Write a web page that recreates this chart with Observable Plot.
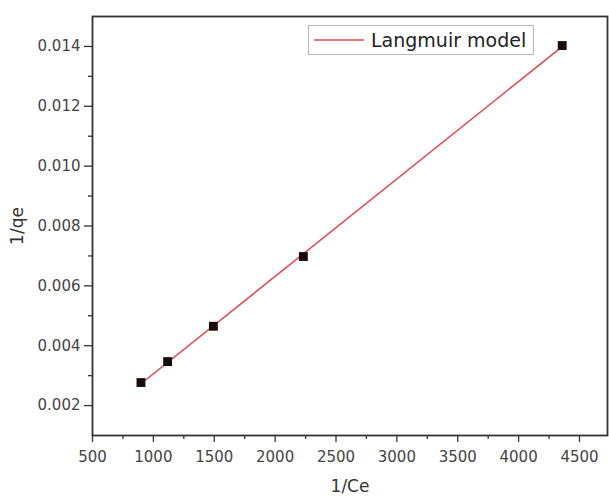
<!DOCTYPE html>
<html>
<head>
<meta charset="utf-8">
<script src="https://cdn.jsdelivr.net/npm/d3@7"></script>
<script src="https://cdn.jsdelivr.net/npm/@observablehq/plot@0.6"></script>
<style>
  html, body { margin: 0; padding: 0; background: #fff; }
  #wrap { position: relative; width: 609px; height: 497px; font-family: "DejaVu Sans", sans-serif; }
  #legend { position: absolute; left: 308px; top: 25px; width: 226px; height: 30px;
    border: 1px solid #bbb; box-sizing: border-box; display: flex; align-items: center; background: #fff; }
  #legend svg { margin-left: 5px; }
  #legend span { font-size: 19px; color: #222; margin-left: 7px; white-space: nowrap; }
</style>
</head>
<body>
<div id="wrap"></div>
<script>
// Data
const invCe = [898, 1117, 1493, 2232, 4358];
const invQe = [0.00277, 0.00347, 0.00465, 0.00698, 0.01403];
const seriesName = "Langmuir model";
const xTicks = [500, 1000, 1500, 2000, 2500, 3000, 3500, 4000, 4500];
const xMinor = [750, 1250, 1750, 2250, 2750, 3250, 3750, 4250];
const yTicks = [0.002, 0.004, 0.006, 0.008, 0.010, 0.012, 0.014];
const yMinor = [0.003, 0.005, 0.007, 0.009, 0.011, 0.013];

const data = invCe.map((x, i) => ({x, y: invQe[i]}));
const lineColor = "#e0474c";
const axisColor = "#333";

const chart = Plot.plot({
  width: 609,
  height: 497,
  marginLeft: 92,
  marginTop: 16,
  marginRight: 2,
  marginBottom: 62,
  style: {fontFamily: "DejaVu Sans, sans-serif", fontSize: "15px", color: "#444", background: "#fff"},
  x: {domain: [500, 4730]},
  y: {domain: [0.001, 0.015]},
  marks: [
    Plot.axisX({ticks: xMinor, tickSize: 4, text: null, stroke: axisColor, strokeWidth: 1.3, label: null}),
    Plot.axisX({ticks: xTicks, tickSize: 7, tickPadding: 9, tickFormat: d => String(d), stroke: axisColor, strokeWidth: 1.3,
      label: "1/Ce", labelAnchor: "center", labelArrow: "none", labelOffset: 56, fontSize: 15}),
    Plot.axisY({ticks: yMinor, tickSize: 4, text: null, stroke: axisColor, strokeWidth: 1.3, label: null}),
    Plot.axisY({ticks: yTicks, tickSize: 8, tickPadding: 4, tickFormat: d3.format(".3f"), stroke: axisColor, strokeWidth: 1.3,
      label: "1/qe", labelAnchor: "center", labelArrow: "none", labelOffset: 82, fontSize: 15}),
    Plot.frame({stroke: axisColor, strokeWidth: 1.8}),
    Plot.linearRegressionY(data, {x: "x", y: "y", ci: 0, stroke: lineColor, strokeWidth: 1.5}),
    Plot.dot(data, {x: "x", y: "y", symbol: "square", r: 5, fill: "#1a0a0a", stroke: "none"})
  ]
});

// Axis label font sizes
chart.querySelectorAll("g[aria-label='x-axis label'], g[aria-label='y-axis label']").forEach(g => {
  g.style.fontSize = "17px";
  g.querySelectorAll("text").forEach(t => { t.style.fontSize = "17px"; t.setAttribute("fill", "#333"); });
});

const wrap = document.getElementById("wrap");
wrap.appendChild(chart);
const legend = document.createElement("div");
legend.id = "legend";
legend.innerHTML = `<svg width="50" height="4"><line x1="0" y1="2" x2="50" y2="2" stroke="${lineColor}" stroke-width="1.5"/></svg><span>${seriesName}</span>`;
wrap.appendChild(legend);
</script>
</body>
</html>
